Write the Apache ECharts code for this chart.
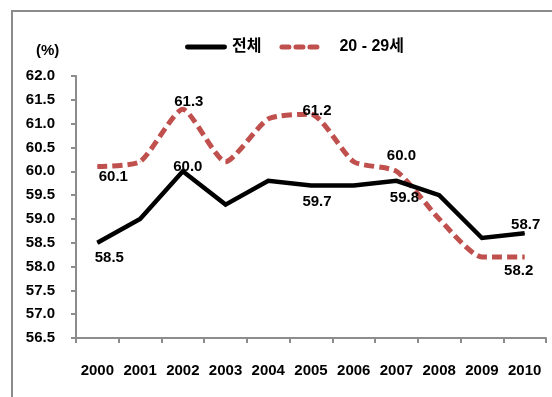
<!DOCTYPE html>
<html>
<head>
<meta charset="utf-8">
<script src="https://cdn.jsdelivr.net/npm/echarts@6/dist/echarts.min.js"></script>
<style>
  html, body { margin: 0; padding: 0; background: #fff; }
  #chart { width: 552px; height: 397px; }
</style>
</head>
<body>
<div id="chart"></div>
<script>
// Employment rate (%) by year: all ages vs. ages 20-29
const years = ['2000', '2001', '2002', '2003', '2004', '2005', '2006', '2007', '2008', '2009', '2010'];
const totalRate = [58.5, 59.0, 60.0, 59.3, 59.8, 59.7, 59.7, 59.8, 59.5, 58.6, 58.7];
const youthRate = [60.1, 60.2, 61.3, 60.2, 61.1, 61.2, 60.2, 60.0, 59.0, 58.2, 58.2];
const seriesNames = ['전체', '20 - 29세'];

// Which points carry a value label, and where the label sits relative to the point
const totalLabelOffsets = { 0: [12, 15], 2: [5, -4], 5: [6, 16], 7: [8, 17], 10: [1, -8] };
const youthLabelOffsets = { 0: [16, 10], 2: [6, -7], 5: [6, -3], 7: [5, -15], 10: [-6, 14] };

const FONT = '"Liberation Sans", Arial, "Noto Sans CJK KR", sans-serif';
const AXIS_GRAY = '#8c8c8c';
const RED = '#c0504d';

function withLabels(values, offsets) {
  return values.map((v, i) => {
    const off = offsets[i];
    if (!off) return v;
    return {
      value: v,
      label: {
        show: true,
        position: 'inside',
        offset: off,
        formatter: (p) => Number(p.value).toFixed(1)
      }
    };
  });
}

const chart = echarts.init(document.getElementById('chart'), null, { renderer: 'canvas' });

chart.setOption({
  animation: false,
  backgroundColor: '#fff',
  textStyle: { fontFamily: FONT },
  graphic: [
    {
      type: 'rect',
      shape: { x: 12, y: 11, width: 600, height: 500 },
      style: { fill: 'none', stroke: AXIS_GRAY, lineWidth: 2 },
      silent: true
    },
    {
      type: 'text',
      left: 36, top: 43,
      style: { text: '(%)', fontFamily: FONT, fontWeight: 'bold', fontSize: 15, fill: '#000' }
    }
  ],
  legend: {
    left: 180,
    top: 34,
    itemWidth: 42,
    itemHeight: 5,
    itemGap: 18,
    data: [
      { name: seriesNames[0], icon: 'path://M2,0h38a2,2 0 0 1 0,5h-38a2,2 0 0 1 0,-5z' },
      {
        name: seriesNames[1],
        icon: 'path://M2,0h7a2,2 0 0 1 0,5h-7a2,2 0 0 1 0,-5z M16,0h7a2,2 0 0 1 0,5h-7a2,2 0 0 1 0,-5z M30,0h7a2,2 0 0 1 0,5h-7a2,2 0 0 1 0,-5z',
        itemStyle: { color: RED },
        textStyle: { padding: [14, 0, 0, 14] }
      }
    ],
    textStyle: {
      fontFamily: FONT,
      fontWeight: 'bold',
      fontSize: 16,
      color: '#000',
      padding: [14, 0, 0, 0]
    }
  },
  grid: { left: 76, right: 6, top: 76, bottom: 59 },
  xAxis: {
    type: 'category',
    data: years,
    boundaryGap: true,
    axisLine: { lineStyle: { color: AXIS_GRAY, width: 2 } },
    axisTick: { show: true, length: 5, lineStyle: { color: AXIS_GRAY, width: 2 } },
    axisLabel: {
      interval: 0,
      margin: 25,
      fontFamily: FONT,
      fontWeight: 'bold',
      fontSize: 15,
      color: '#000'
    },
    splitLine: { show: false }
  },
  yAxis: {
    type: 'value',
    min: 56.5,
    max: 62.0,
    interval: 0.5,
    axisLine: { show: true, lineStyle: { color: AXIS_GRAY, width: 2 } },
    axisTick: { show: true, length: 5, lineStyle: { color: AXIS_GRAY, width: 2 } },
    axisLabel: {
      margin: 21,
      fontFamily: FONT,
      fontWeight: 'bold',
      fontSize: 15,
      color: '#000',
      formatter: (v) => v.toFixed(1)
    },
    splitLine: { show: false }
  },
  series: [
    {
      name: seriesNames[0],
      type: 'line',
      data: withLabels(totalRate, totalLabelOffsets),
      symbol: 'circle',
      symbolSize: 1,
      itemStyle: { color: '#000' },
      lineStyle: { color: '#000', width: 4.5, join: 'miter' },
      label: {
        fontFamily: FONT,
        fontWeight: 'bold',
        fontSize: 15,
        color: '#000'
      },
      z: 3
    },
    {
      name: seriesNames[1],
      type: 'line',
      data: withLabels(youthRate, youthLabelOffsets),
      smooth: 0.2,
      symbol: 'circle',
      symbolSize: 1,
      itemStyle: { color: RED },
      lineStyle: { color: RED, width: 5, type: [10, 5] },
      label: {
        fontFamily: FONT,
        fontWeight: 'bold',
        fontSize: 15,
        color: '#000'
      },
      z: 2
    }
  ]
});
</script>
</body>
</html>
